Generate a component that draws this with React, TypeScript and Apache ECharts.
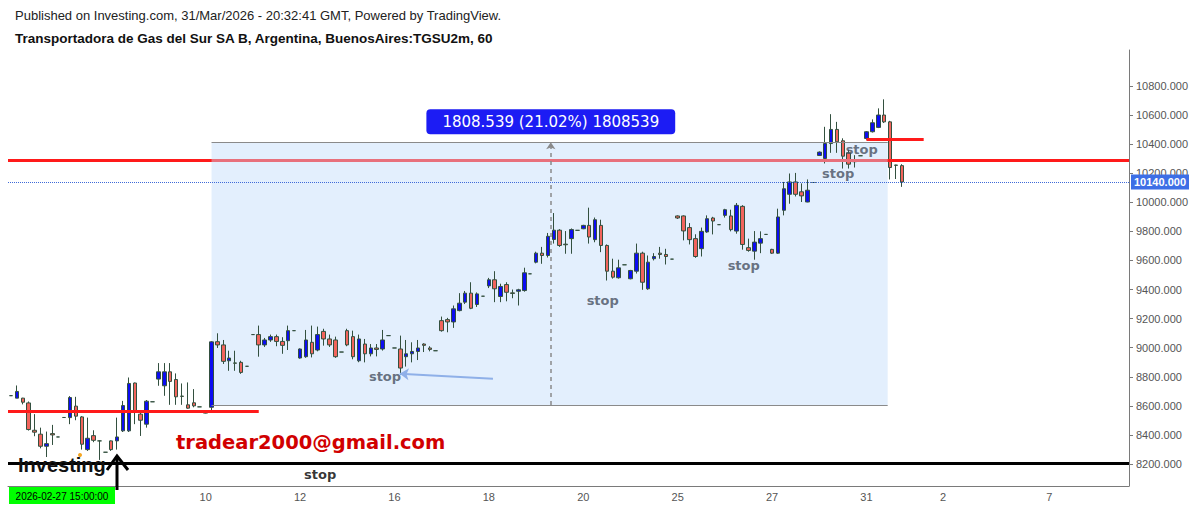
import React, { useEffect, useRef } from 'react';
import * as echarts from 'echarts';

// [open, close, low, high] per hourly bar
const candles: number[][] = [
  [8670, 8670, 8670, 8670], [8653, 8699, 8653, 8740], [8653, 8625, 8610, 8655], [8620, 8437, 8430, 8630],
  [8432, 8419, 8391, 8543], [8405, 8322, 8308, 8450], [8322, 8340, 8248, 8423], [8409, 8400, 8331, 8469],
  [8386, 8386, 8386, 8386], [8520, 8520, 8520, 8520], [8519, 8657, 8474, 8667], [8598, 8529, 8501, 8662],
  [8524, 8336, 8299, 8530], [8299, 8377, 8290, 8519], [8395, 8363, 8350, 8432], [8359, 8359, 8228, 8362],
  [8281, 8281, 8281, 8281], [8359, 8299, 8290, 8362], [8359, 8386, 8299, 8519], [8428, 8602, 8420, 8634],
  [8428, 8754, 8420, 8795], [8757, 8554, 8474, 8760], [8543, 8501, 8393, 8570], [8474, 8632, 8450, 8640],
  [8628, 8628, 8628, 8628], [8784, 8834, 8738, 8894], [8738, 8834, 8669, 8894], [8834, 8768, 8607, 8894],
  [8781, 8662, 8607, 8823], [8667, 8665, 8607, 8754], [8607, 8584, 8580, 8761], [8621, 8600, 8590, 8715],
  [8593, 8593, 8593, 8593], [8550, 8559, 8548, 8561], [8590, 9040, 8570, 9045], [9041, 9019, 8998, 9099],
  [9019, 8906, 8888, 9053], [8910, 8929, 8841, 8979], [8895, 8893, 8841, 8979], [8899, 8830, 8820, 8910],
  [8872, 8872, 8872, 8872], [9090, 9090, 9090, 9090], [9090, 9019, 8938, 9152], [9019, 9053, 9005, 9067],
  [9053, 9076, 9040, 9090], [9076, 9043, 9010, 9090], [9043, 9016, 8958, 9072], [9048, 9117, 8984, 9152],
  [9117, 9117, 9117, 9117], [8929, 8991, 8925, 8995], [8938, 9053, 8930, 9122], [9037, 8958, 8933, 9152],
  [8984, 9090, 8975, 9145], [9112, 9060, 9014, 9130], [9060, 9019, 9005, 9090], [9053, 8938, 8930, 9076],
  [8970, 8970, 8970, 8970], [9117, 9019, 9010, 9130], [9076, 8938, 8920, 9117], [8910, 9060, 8900, 9090],
  [9025, 8958, 8899, 9060], [8958, 8998, 8940, 9025], [8998, 8988, 8940, 9025], [8991, 9053, 8980, 9122],
  [9083, 9083, 9083, 9083], [8998, 8998, 8998, 8998], [8991, 8860, 8814, 9083], [8938, 8958, 8870, 9053],
  [8958, 8974, 8899, 9037], [8974, 8998, 8915, 9053], [9025, 9016, 8970, 9030], [8998, 8988, 8975, 9010],
  [8979, 8979, 8979, 8979], [9186, 9117, 9110, 9214], [9193, 9177, 9106, 9205], [9177, 9267, 9136, 9290],
  [9255, 9306, 9250, 9375], [9313, 9375, 9300, 9390], [9375, 9271, 9265, 9450], [9297, 9370, 9280, 9380],
  [9354, 9354, 9354, 9354], [9425, 9467, 9410, 9480], [9467, 9405, 9313, 9526], [9352, 9421, 9313, 9440],
  [9434, 9381, 9319, 9450], [9377, 9373, 9340, 9400], [9388, 9398, 9290, 9405], [9393, 9515, 9385, 9550],
  [9508, 9508, 9508, 9508], [9588, 9650, 9580, 9660], [9650, 9634, 9577, 9693], [9634, 9766, 9620, 9789],
  [9744, 9808, 9716, 9926], [9808, 9703, 9693, 9815], [9712, 9708, 9646, 9802], [9750, 9812, 9646, 9820],
  [9807, 9807, 9807, 9807], [9818, 9841, 9815, 9845], [9841, 9761, 9716, 9963], [9743, 9880, 9725, 9895],
  [9841, 9703, 9657, 9880], [9703, 9526, 9462, 9710], [9526, 9485, 9475, 9612], [9481, 9549, 9475, 9605],
  [9570, 9570, 9570, 9570], [9474, 9531, 9470, 9535], [9526, 9650, 9510, 9716], [9650, 9450, 9398, 9660],
  [9405, 9588, 9398, 9634], [9612, 9627, 9600, 9650], [9650, 9641, 9612, 9693], [9641, 9627, 9572, 9680],
  [9609, 9609, 9609, 9609], [9906, 9892, 9885, 9910], [9906, 9803, 9738, 9910], [9826, 9743, 9710, 9857],
  [9750, 9627, 9618, 9780], [9681, 9800, 9627, 9826], [9796, 9887, 9790, 9910], [9892, 9871, 9779, 9900],
  [9846, 9846, 9846, 9846], [9910, 9949, 9895, 9955], [9906, 9812, 9800, 9949], [9802, 9979, 9784, 9995],
  [9972, 9710, 9674, 9980], [9688, 9669, 9660, 9750], [9664, 9726, 9605, 9802], [9719, 9750, 9650, 9800],
  [9779, 9779, 9779, 9779], [9676, 9650, 9645, 9680], [9650, 9899, 9645, 9956], [9945, 10093, 9910, 10140],
  [10055, 10140, 9990, 10198], [10140, 10055, 10040, 10202], [10072, 10044, 10002, 10130], [10002, 10083, 10000, 10157],
  [10136, 10136, 10136, 10136], [10322, 10345, 10318, 10350], [10301, 10404, 10267, 10519], [10404, 10501, 10340, 10606],
  [10501, 10416, 10340, 10553], [10423, 10317, 10232, 10440], [10340, 10262, 10232, 10360], [10283, 10279, 10239, 10324],
  [10320, 10320, 10320, 10320], [10439, 10485, 10430, 10490], [10485, 10547, 10480, 10570], [10515, 10600, 10510, 10646],
  [10600, 10553, 10545, 10708], [10553, 10239, 10157, 10560], [10256, 10254, 10160, 10258], [10252, 10140, 10106, 10262],
];

const slotCount = 190;
const dayTicks: [number, string][] = [
  [33, '10'], [49, '12'], [65, '16'], [81, '18'], [97, '20'], [113, '25'], [129, '27'], [145, '31'], [158, '2'], [176, '7'],
];
const yTicks = [8200, 8400, 8600, 8800, 9000, 9200, 9400, 9600, 9800, 10000, 10200, 10400, 10600, 10800];
const yMin = 8048.7;
const yMax = 11047.3;

const resistanceLevel = 10290;
const supportLevel = 8565;
const supportEnd = 42;
const stopLevel = 8205;
const lastPrice = 10140;
const highLevel = 10434;
const highSpan = [145, 154.7];
const rangeStart = 34;
const rangeEnd = 148.6;
const rangeLow = 8604.961;
const rangeHigh = 10413.5;
const measureX = 91.5;
const arrowFrom = [81.7, 8786];
const arrowTo = [65.9, 8820];
const stopNotes: [number, number][] = [
  [63.4, 8800], [100.3, 9324], [124.2, 9566], [140.2, 10200], [144.2, 10365], [52.4, 8131],
];

export default function App() {
  const ref = useRef<HTMLDivElement>(null);
  useEffect(() => {
    if (!ref.current) return;
    const chart = echarts.init(ref.current, null, { renderer: 'svg' });
    const tickMap = new Map(dayTicks);
    const slots = Array.from({ length: slotCount }, (_, i) => String(i));
    const diff = rangeHigh - rangeLow;
    const measureText = `${diff.toFixed(3)} (${((diff / rangeLow) * 100).toFixed(2)}%) ${Math.round(diff * 1000)}`;
    const seg = (x1: number, y1: number, x2: number, y2: number, lineStyle: any, extra: any = {}) => [
      { coord: [x1, y1], lineStyle, ...extra },
      { coord: [x2, y2] },
    ];
    const option: any = {
      animation: false,
      backgroundColor: '#ffffff',
      textStyle: { fontFamily: 'Liberation Sans, Arial, sans-serif' },
      grid: { left: 8, right: 70, top: 50, bottom: 23 },
      xAxis: [
        {
          type: 'category',
          data: slots,
          boundaryGap: true,
          axisLine: { onZero: false, lineStyle: { color: '#7a7a7a', width: 1 } },
          axisTick: { alignWithLabel: true, interval: (i: number) => tickMap.has(i), length: 4, lineStyle: { color: '#7a7a7a' } },
          axisLabel: {
            interval: (i: number) => tickMap.has(i),
            formatter: (_v: string, i: number) => tickMap.get(i) ?? '',
            color: '#555',
            fontSize: 11,
            margin: 5,
          },
          splitLine: { show: false },
        },
        { type: 'value', min: -0.5, max: slotCount - 0.5, show: false, gridIndex: 0 },
      ],
      yAxis: {
        type: 'value',
        position: 'right',
        min: yMin,
        max: yMax,
        axisLine: { show: true, onZero: false, lineStyle: { color: '#7a7a7a' } },
        axisTick: { show: true, length: 4, customValues: yTicks, lineStyle: { color: '#7a7a7a' } },
        axisLabel: { customValues: yTicks, formatter: (v: number) => v.toFixed(3), color: '#555', fontSize: 11, margin: 7 },
        splitLine: { show: false },
      },
      series: [
        {
          type: 'candlestick',
          xAxisIndex: 0,
          data: candles,
          barWidth: 4,
          z: 3,
          itemStyle: {
            color: '#0c0cf2',
            color0: '#f2645c',
            borderColor: '#33503f',
            borderColor0: '#33503f',
            borderWidth: 1,
          },
        },
        {
          type: 'line',
          xAxisIndex: 1,
          data: [[rangeStart, rangeLow]],
          showSymbol: false,
          lineStyle: { opacity: 0 },
          silent: true,
          markArea: {
            silent: true,
            label: { show: false },
            itemStyle: { color: '#e3effd' },
            data: [[{ coord: [rangeStart, rangeHigh] }, { coord: [rangeEnd, rangeLow] }]],
          },
          markLine: {
            silent: true,
            symbol: ['none', 'none'],
            label: { show: false },
            data: [
              { yAxis: stopLevel, lineStyle: { color: '#000000', width: 3, type: 'solid' } },
              { yAxis: resistanceLevel, lineStyle: { color: '#ff1a1a', width: 3, type: 'solid' } },
              seg(rangeStart, resistanceLevel, rangeEnd, resistanceLevel, { color: '#e8707c', width: 3, type: 'solid' }),
              seg(rangeStart, rangeHigh, rangeEnd, rangeHigh, { color: '#8a8a8a', width: 1, type: 'solid' }),
              seg(rangeStart, rangeLow, rangeEnd, rangeLow, { color: '#8a8a8a', width: 1, type: 'solid' }),
              seg(-0.5, supportLevel, supportEnd, supportLevel, { color: '#ff1a1a', width: 3, type: 'solid' }),
              seg(highSpan[0], highLevel, highSpan[1], highLevel, { color: '#ff1a1a', width: 3, type: 'solid' }),
              {
                yAxis: lastPrice,
                lineStyle: { color: '#3f6ad8', width: 1, type: 'dotted' },
                label: {
                  show: true,
                  position: 'end',
                  distance: 2,
                  formatter: lastPrice.toFixed(3),
                  color: '#ffffff',
                  backgroundColor: '#3d6fe6',
                  padding: [2, 3],
                  fontSize: 11,
                  fontWeight: 'bold',
                },
              },
              [
                {
                  coord: [measureX, rangeLow],
                  symbol: 'none',
                  lineStyle: { color: '#8a8a8a', width: 1.5, type: [4, 4] },
                  label: {
                    show: true,
                    position: 'end',
                    distance: 8,
                    formatter: measureText,
                    color: '#ffffff',
                    backgroundColor: '#1c1cf4',
                    borderRadius: 4,
                    padding: [5, 16],
                    fontSize: 15,
                    fontFamily: 'DejaVu Sans',
                  },
                },
                { coord: [measureX, rangeHigh], symbol: 'arrow', symbolSize: 7 },
              ],
              [
                { coord: arrowFrom, symbol: 'none', lineStyle: { color: '#8fb0e8', width: 2, type: 'solid' } },
                { coord: arrowTo, symbol: 'arrow', symbolSize: 9 },
              ],
            ],
          },
        },
        {
          type: 'scatter',
          xAxisIndex: 1,
          symbolSize: 1,
          itemStyle: { color: 'rgba(0,0,0,0)' },
          silent: true,
          z: 6,
          data: stopNotes.map(([x, y], i) => ({
            value: [x, y],
            label: { color: i === stopNotes.length - 1 ? '#000000' : '#464f60' },
          })),
          label: {
            show: true,
            position: 'inside',
            formatter: 'stop',
            fontSize: 13,
            fontWeight: 'bold',
            fontFamily: 'DejaVu Sans',
          },
          labelLayout: { hideOverlap: false },
        },
      ],
      graphic: [
        {
          type: 'text', left: 15, top: 9, z: 10,
          style: { text: 'Published on Investing.com, 31/Mar/2026 - 20:32:41 GMT, Powered by TradingView.', fill: '#222', fontSize: 13, fontFamily: 'Liberation Sans' },
        },
        {
          type: 'text', left: 15, top: 31, z: 10,
          style: { text: 'Transportadora de Gas del Sur SA B, Argentina, BuenosAires:TGSU2m, 60', fill: '#111', fontSize: 13.5, fontWeight: 'bold', fontFamily: 'Liberation Sans' },
        },
        {
          type: 'text', left: 176, top: 432, z: 10,
          style: { text: 'tradear2000@gmail.com', fill: '#d10000', fontSize: 19.5, fontWeight: 'bold', fontFamily: 'DejaVu Sans' },
        },
        {
          type: 'text', left: 18, top: 455, z: 10,
          style: { text: 'Investing', fill: '#111', fontSize: 20, fontWeight: 'bold', fontFamily: 'Liberation Sans' },
        },
        { type: 'circle', shape: { cx: 80, cy: 455, r: 2 }, style: { fill: '#f5a623' }, z: 10 },
        { type: 'polyline', shape: { points: [[107, 470], [117, 456], [128, 470]] }, style: { stroke: '#000', lineWidth: 3, fill: 'none' }, z: 10 },
        { type: 'line', shape: { x1: 117, y1: 456, x2: 117, y2: 490 }, style: { stroke: '#000', lineWidth: 3 }, z: 10 },
        { type: 'rect', shape: { x: 9, y: 487, width: 106, height: 17 }, style: { fill: '#00ff00' }, z: 10 },
        {
          type: 'text', x: 62, y: 496, z: 11,
          style: { text: '2026-02-27 15:00:00', fill: '#000', fontSize: 10, fontFamily: 'Liberation Sans', align: 'center', verticalAlign: 'middle' },
        },
      ],
    };
    chart.setOption(option);
    return () => chart.dispose();
  }, []);
  return <div ref={ref} style={{ position: 'absolute', left: 0, top: 0, width: 1199, height: 509 }} />;
}
